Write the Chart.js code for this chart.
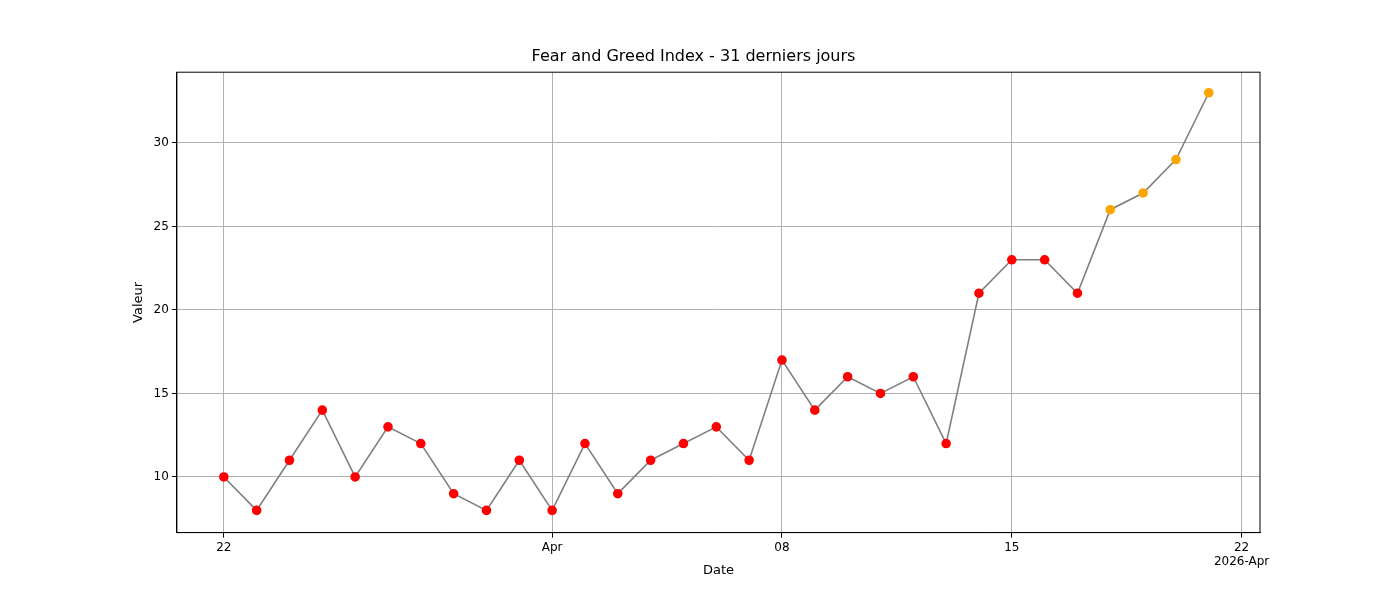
<!DOCTYPE html>
<html><head><script src="https://cdn.jsdelivr.net/npm/chart.js@4"></script>
<style>body{margin:0;background:#fff}#w{width:1400px;height:600px}</style></head>
<body><div id="w"><canvas id="c"></canvas></div>
<script>
const dayIndex=[0,1,2,3,4,5,6,7,8,9,10,11,12,13,14,15,16,17,18,19,20,21,22,23,24,25,26,27,28,29,30];
const values=[10,8,11,14,10,13,12,9,8,11,8,12,9,11,12,13,11,17,14,16,15,16,12,21,23,23,21,26,27,29,33];
const tickPos=[0,10,17,24,31];
const tickLabels=['22','Apr','08','15',['22','2026-Apr']];
const pts=dayIndex.map((d,i)=>({x:d,y:values[i]}));
const cols=values.map(v=>v<25?'red':'orange');
new Chart(document.getElementById('c'),{type:'scatter',
data:{datasets:[{data:pts,showLine:true,borderColor:'gray',borderWidth:1.6,pointBackgroundColor:cols,pointBorderColor:cols,pointRadius:4}]},
options:{responsive:true,maintainAspectRatio:false,animation:false,
layout:{padding:{left:127,right:140,top:47,bottom:22}},
plugins:{legend:{display:false},tooltip:{enabled:false},title:{display:true,text:'Fear and Greed Index - 31 derniers jours',color:'#000',font:{size:16,family:'DejaVu Sans',weight:'normal'},padding:{bottom:6}}},
scales:{x:{type:'linear',min:-1.43,max:31.56,afterBuildTicks:a=>{a.ticks=tickPos.map(v=>({value:v}))},
ticks:{color:'#000',font:{size:12,family:'DejaVu Sans'},callback:(v)=>tickLabels[tickPos.indexOf(v)]},
grid:{color:'#b0b0b0',tickColor:'#000',tickLength:5},border:{color:'#000'},
title:{display:true,text:'Date',color:'#000',font:{size:13,family:'DejaVu Sans'},padding:{top:-10,bottom:0}}},
y:{min:6.67,max:34.23,afterBuildTicks:a=>{a.ticks=[10,15,20,25,30].map(v=>({value:v}))},
ticks:{color:'#000',font:{size:12,family:'DejaVu Sans'}},
grid:{color:'#b0b0b0',tickColor:'#000',tickLength:5},border:{color:'#000'},
title:{display:true,text:'Valeur',color:'#000',font:{size:13,family:'DejaVu Sans'}}}}},
plugins:[{id:'frame',afterDraw(c){const a=c.chartArea,x=c.ctx;x.save();x.strokeStyle='#000';x.lineWidth=1;x.strokeRect(a.left,a.top,a.right-a.left,a.bottom-a.top);x.restore();}}]
});
</script></body></html>
